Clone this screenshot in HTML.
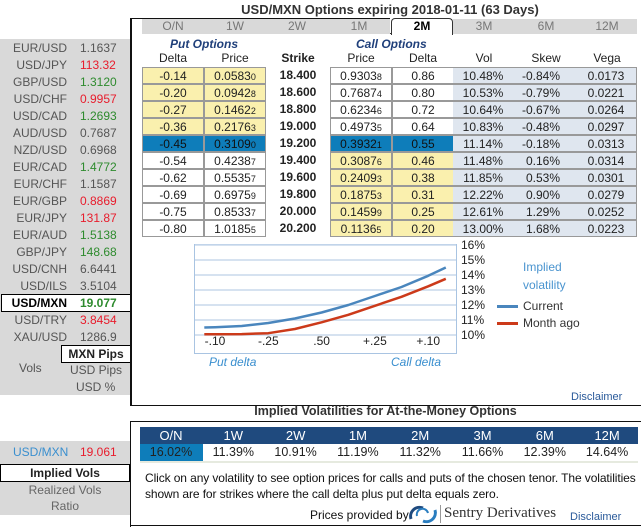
<!DOCTYPE html>
<html><head><meta charset="utf-8"><style>
*{margin:0;padding:0;box-sizing:border-box}
body{width:641px;height:527px;background:#fff;font-family:"Liberation Sans",sans-serif;position:relative;overflow:hidden;font-size:12px;color:#222}
.a{position:absolute}
.lp{position:absolute;left:0;width:130px;height:17px;line-height:17px;font-size:12px;color:#555}
.lp span{position:absolute}
.g{color:#2e8b2e}.r{color:#e81c2c}
.tab{position:absolute;top:19px;height:15px;line-height:15px;text-align:center;color:#777;font-size:12px;background:#d9d9d9}
.c{position:absolute;height:17px;line-height:16px;text-align:center;font-size:12px;border:1px solid #999}
.y{background:#faf0ae}.w{background:#fff}.b{background:#0e7dba;color:#111}.v{background:#dfe6ef;border:none;border-bottom:1px solid #999;border-top:1px solid #999}
.st{position:absolute;left:270px;width:56px;text-align:center;font-weight:bold;font-size:12px}
sub{font-size:9px;vertical-align:baseline}
.hd{position:absolute;top:51px;font-size:12px;text-align:center}
.bt{position:absolute;text-align:center;font-size:12px}
</style></head><body>
<div class="a" style="left:140px;width:500px;top:2px;text-align:center;font-weight:bold;font-size:13px;color:#333">USD/MXN Options expiring 2018-01-11 (63 Days)</div>

<div class="a" style="left:0;top:39px;width:130px;height:356px;background:#d9d9d9"></div>
<div class="a" style="left:1px;top:294px;width:130px;height:18px;background:#fff;border:1px solid #000"></div>
<div id="pairs"></div>
<div class="a" style="left:61px;top:345px;width:70px;height:18px;background:#fff;border:1px solid #000;font-weight:bold;text-align:center;line-height:16px;font-size:12px">MXN Pips</div>
<div class="a" style="left:19px;top:361px;color:#555">Vols</div>
<div class="a" style="left:70px;top:363px;color:#555">USD Pips</div>
<div class="a" style="left:76px;top:380px;color:#555">USD %</div>

<div class="a" style="left:130px;top:18px;width:2px;height:388px;background:#111"></div>
<div class="a" style="left:130px;top:18px;width:260px;height:1px;background:#111"></div>
<div class="a" style="left:130px;top:405px;width:511px;height:1px;background:#111"></div>
<div class="a" style="left:142px;top:33px;width:495px;height:1px;background:#333"></div>
<div class="tab" style="left:142px;width:62px">O/N</div>
<div class="tab" style="left:204px;width:62px">1W</div>
<div class="tab" style="left:266px;width:62px">2W</div>
<div class="tab" style="left:328px;width:62px">1M</div>
<div class="tab" style="left:391px;width:62px;top:18px;height:17px;background:#fff;color:#000;font-weight:bold;border:1px solid #333;border-bottom:none;border-radius:4px 4px 0 0">2M</div>
<div class="tab" style="left:453px;width:62px">3M</div>
<div class="tab" style="left:515px;width:62px">6M</div>
<div class="tab" style="left:577px;width:60px">12M</div>

<div class="a" style="left:170px;top:37px;font-style:italic;font-weight:bold;color:#1f3f7a">Put Options</div>
<div class="a" style="left:356px;top:37px;font-style:italic;font-weight:bold;color:#1f3f7a">Call Options</div>
<div class="hd" style="left:142px;width:62px">Delta</div>
<div class="hd" style="left:204px;width:62px">Price</div>
<div class="hd" style="left:270px;width:56px;font-weight:bold">Strike</div>
<div class="hd" style="left:330px;width:62px">Price</div>
<div class="hd" style="left:392px;width:62px">Delta</div>
<div class="hd" style="left:453px;width:62px">Vol</div>
<div class="hd" style="left:515px;width:62px">Skew</div>
<div class="hd" style="left:577px;width:60px">Vega</div>
<div id="rows"></div>

<svg class="a" style="left:0;top:0" width="641" height="420" id="chart"></svg>
<div class="a" style="left:523px;top:258px;color:#4a94cf;font-size:12px;line-height:18px">Implied<br>volatility</div>
<div class="a" style="left:497px;top:299px;font-size:12px;color:#333"><span style="display:inline-block;width:21px;height:3px;background:#4a86bd;vertical-align:middle;margin-right:5px"></span>Current</div>
<div class="a" style="left:497px;top:316px;font-size:12px;color:#333"><span style="display:inline-block;width:21px;height:3px;background:#cc3a1a;vertical-align:middle;margin-right:5px"></span>Month ago</div>
<div class="a" style="left:209px;top:355px;font-style:italic;color:#3a8fcf">Put delta</div>
<div class="a" style="left:391px;top:355px;font-style:italic;color:#3a8fcf">Call delta</div>
<div class="a" style="left:571px;top:391px;font-size:11px;color:#2a5a9a">Disclaimer</div>

<div class="a" style="left:130px;width:511px;top:404px;text-align:center;font-weight:bold;font-size:12.5px;color:#333">Implied Volatilities for At-the-Money Options</div>
<div class="a" style="left:130px;top:421px;width:511px;height:1px;background:#111"></div>
<div class="a" style="left:130px;top:421px;width:1px;height:106px;background:#111"></div>
<div class="a" style="left:130px;top:525px;width:511px;height:1px;background:#111"></div>
<div class="a" style="left:140px;top:427px;width:498px;height:17px;background:#1f4a7e"></div>
<div class="a" style="left:140px;top:461px;width:498px;height:2px;background:#e6eadf"></div>
<div class="a" style="left:140px;top:444px;width:63px;height:17px;background:#0e7dba"></div>
<div id="atm"></div>
<div class="a" style="left:145px;top:470px;width:496px;font-size:12px;line-height:16px;color:#111;white-space:nowrap;letter-spacing:-0.1px">Click on any volatility to see option prices for calls and puts of the chosen tenor. The volatilities<br>shown are for strikes where the call delta plus put delta equals zero.</div>
<div class="a" style="left:310px;top:508px;font-size:12px;color:#111">Prices provided by</div>
<svg class="a" style="left:408px;top:504px" width="30" height="20"><path d="M3 15 A9 9 0 0 1 15 4" stroke="#1f4a7e" stroke-width="3" fill="none"/><path d="M27 6 A9 9 0 0 1 15 17" stroke="#2a7dbf" stroke-width="3" fill="none"/><path d="M9 12 A5 5 0 0 1 20 9" stroke="#2a7dbf" stroke-width="2" fill="none"/></svg>
<div class="a" style="left:440px;top:505px;width:1px;height:18px;background:#999"></div>
<div class="a" style="left:444px;top:505px;font-family:'Liberation Serif',serif;font-size:15px;color:#333">Sentry Derivatives</div>
<div class="a" style="left:570px;top:511px;font-size:11px;color:#2a5a9a">Disclaimer</div>

<div class="a" style="left:0;top:441px;width:130px;height:23px;background:#d9d9d9"></div>
<div class="a" style="left:13px;top:445px;color:#3a8fcf">USD/MXN</div>
<div class="a r" style="left:80px;top:445px">19.061</div>
<div class="a" style="left:0;top:465px;width:130px;height:50px;background:#d9d9d9"></div>
<div class="a" style="left:0;top:464px;width:130px;height:18px;background:#fff;border:1px solid #000;text-align:center;font-weight:bold;line-height:16px">Implied Vols</div>
<div class="a" style="left:0;width:130px;top:483px;text-align:center;color:#666">Realized Vols</div>
<div class="a" style="left:0;width:130px;top:499px;text-align:center;color:#666">Ratio</div>

<script>
const pairNames=["EUR/USD","USD/JPY","GBP/USD","USD/CHF","USD/CAD","AUD/USD","NZD/USD","EUR/CAD","EUR/CHF","EUR/GBP","EUR/JPY","EUR/AUD","GBP/JPY","USD/CNH","USD/ILS","USD/MXN","USD/TRY","XAU/USD"];
const pairRates=["1.1637","113.32","1.3120","0.9957","1.2693","0.7687","0.6968","1.4772","1.1587","0.8869","131.87","1.5138","148.68","6.6441","3.5104","19.077","3.8454","1286.9"];
const pairDir=["","r","g","r","g","","","g","","r","r","g","g","","","g","r",""];
const pc=document.getElementById('pairs');
pairNames.forEach((n,i)=>{const d=document.createElement('div');d.className='lp';d.style.top=(40+17*i)+'px';


const sel=n==='USD/MXN';
d.innerHTML=`<span style="right:63px;${sel?'font-weight:bold;color:#000;':''}">${n}</span><span class="${pairDir[i]}" style="left:80px;${sel?'font-weight:bold;':''}">${pairRates[i]}</span>`;
pc.appendChild(d);});

const putDelta=["-0.14","-0.20","-0.27","-0.36","-0.45","-0.54","-0.62","-0.69","-0.75","-0.80"];
const putPrice=["0.0583|0","0.0942|8","0.1462|2","0.2176|3","0.3109|0","0.4238|7","0.5535|7","0.6975|9","0.8533|7","1.0185|5"];
const strikes=["18.400","18.600","18.800","19.000","19.200","19.400","19.600","19.800","20.000","20.200"];
const callPrice=["0.9303|8","0.7687|4","0.6234|6","0.4973|5","0.3932|1","0.3087|6","0.2409|3","0.1875|3","0.1459|9","0.1136|5"];
const callDelta=["0.86","0.80","0.72","0.64","0.55","0.46","0.38","0.31","0.25","0.20"];
const vols=["10.48%","10.53%","10.64%","10.83%","11.14%","11.48%","11.85%","12.22%","12.61%","13.00%"];
const skews=["-0.84%","-0.79%","-0.67%","-0.48%","-0.18%","0.16%","0.53%","0.90%","1.29%","1.68%"];
const vegas=["0.0173","0.0221","0.0264","0.0297","0.0313","0.0314","0.0301","0.0279","0.0252","0.0223"];
const rc=document.getElementById('rows');
const pr=s=>{const[a,b]=s.split('|');return a+'<sub>'+b+'</sub>';};
for(let i=0;i<10;i++){const top=67+17*i;
const pcl=i<4?'y':i===4?'b':'w', ccl=i<4?'w':i===4?'b':'y';
const cells=[[142,62,pcl,putDelta[i],'put-delta-cell'],[204,62,pcl,pr(putPrice[i]),'put-price-cell'],[330,62,ccl,pr(callPrice[i]),'call-price-cell'],[392,62,ccl,callDelta[i],'call-delta-cell']];
cells.forEach(c=>{const d=document.createElement('div');d.className='c '+c[2];d.style.cssText+=`left:${c[0]}px;top:${top}px;width:${c[1]}px`;d.innerHTML=c[3];


rc.appendChild(d);});
const v=document.createElement('div');v.className='c v';v.style.cssText+=`left:453px;top:${top}px;width:184px;border-right:1px solid #999`;


v.innerHTML=`<span style="position:absolute;left:0;width:60px;text-align:center">${vols[i]}</span><span style="position:absolute;right:76px;text-align:right">${skews[i]}</span><span style="position:absolute;left:124px;width:58px;text-align:center">${vegas[i]}</span>`;
rc.appendChild(v);
const s=document.createElement('div');s.className='st';s.style.top=(top+1)+'px';s.textContent=strikes[i];


rc.appendChild(s);}

const xTicks=["-.10","-.25",".50","+.25","+.10"];
const yTicks=[10,11,12,13,14,15,16];
const xIdx=[-0.2,0,0.5,1,1.5,2,2.5,3,3.5,4,4.33];
const currentVol=[10.5,10.52,10.6,10.8,11.1,11.5,12.0,12.6,13.2,13.95,14.5];
const monthAgoVol=[10.05,10.05,10.06,10.12,10.4,10.85,11.35,11.95,12.55,13.25,13.75];
const sx=i=>215+i*53.3, sy=v=>335-(v-10)*15;
const svg=document.getElementById('chart');const NS='http://www.w3.org/2000/svg';
function el(t,a){const e=document.createElementNS(NS,t);for(const k in a)e.setAttribute(k,a[k]);svg.appendChild(e);return e;}
const fr=el('rect',{x:194.5,y:244.5,width:262,height:109,fill:'#fff',stroke:'#a9c4e2'});


yTicks.forEach(t=>{const l=el('line',{x1:195,x2:456,y1:sy(t),y2:sy(t),stroke:'#c9d9ec','stroke-width':1.5});


const tx=el('text',{x:461,y:sy(t)+4,'font-size':12,fill:'#222','font-family':'Liberation Sans'});tx.textContent=t+'%';

});
xTicks.forEach((t,i)=>{const tx=el('text',{x:sx(i),y:345,'font-size':12,fill:'#222','text-anchor':'middle','font-family':'Liberation Sans'});tx.textContent=t;

});
function line(arr,col,name){let d='';arr.forEach((v,i)=>{d+=(i?'L':'M')+sx(xIdx[i]).toFixed(1)+' '+sy(v).toFixed(1);});
const p=el('path',{d:d,stroke:col,'stroke-width':2.5,fill:'none','stroke-linejoin':'round'});

}
line(monthAgoVol,'#cc3a1a','month-ago-line');
line(currentVol,'#4a86bd','current-line');

const tenors=["O/N","1W","2W","1M","2M","3M","6M","12M"];
const atmVols=["16.02%","11.39%","10.91%","11.19%","11.32%","11.66%","12.39%","14.64%"];
const ac=document.getElementById('atm');
tenors.forEach((t,i)=>{const x=140+i*62.3;
const h=document.createElement('div');h.className='bt';h.style.cssText+=`left:${x}px;width:62px;top:428px;color:#fff;font-size:13px`;h.textContent=t;


ac.appendChild(h);
const v=document.createElement('div');v.className='bt';v.style.cssText+=`left:${x}px;width:62px;top:445px;font-size:12.5px`;v.textContent=atmVols[i];


ac.appendChild(v);});
</script>
</body></html>
